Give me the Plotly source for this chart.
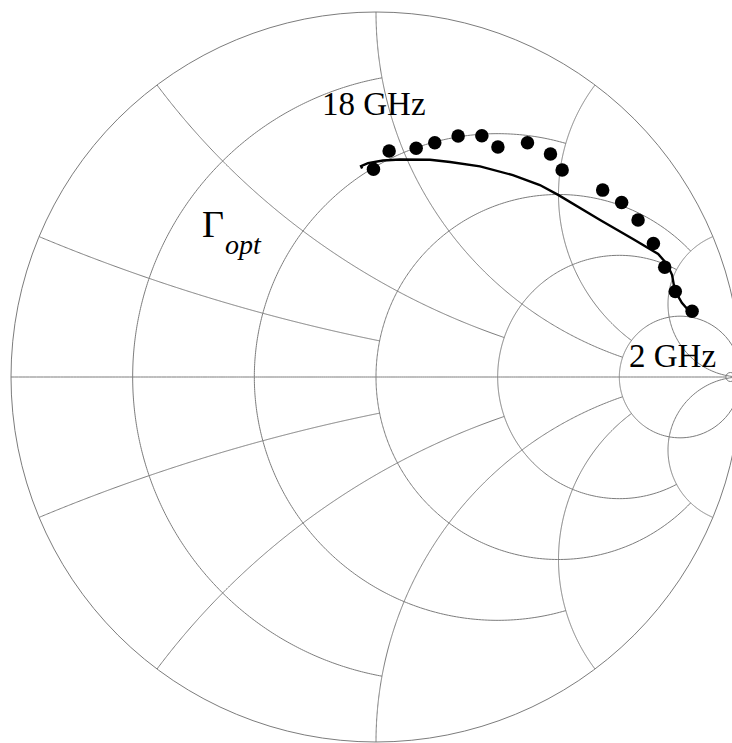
import numpy as np
import plotly.graph_objects as go

meas_gamma_re = [0.866, 0.820, 0.791, 0.760, 0.718, 0.673, 0.621, 0.510, 0.478,
                 0.415, 0.334, 0.290, 0.225, 0.161, 0.110, 0.036, -0.007]
meas_gamma_im = [0.180, 0.234, 0.301, 0.366, 0.430, 0.478, 0.512, 0.567, 0.611,
                 0.642, 0.630, 0.661, 0.660, 0.642, 0.627, 0.619, 0.569]

# Simulated Gamma_opt curve, 2 GHz -> 18 GHz
sim_gamma_re = [0.860, 0.838, 0.819, 0.811, 0.797, 0.773, 0.704, 0.614, 0.499,
                0.449, 0.375, 0.285, 0.203, 0.148, 0.066, 0.019, -0.022, -0.041, -0.038]
sim_gamma_im = [0.178, 0.203, 0.236, 0.280, 0.310, 0.337, 0.378, 0.430, 0.499,
                0.526, 0.553, 0.577, 0.589, 0.595, 0.596, 0.593, 0.586, 0.578, 0.571]

# Smith chart grid: resistance / reactance values and where each grid line stops
resist_vals = [0.2, 0.5, 1.0, 2.0, 5.0]
resist_stop_at_x = [1.0, 2.0, 5.0, 5.0, np.inf]
react_vals = [0.2, 0.5, 1.0, 2.0, 5.0]
react_stop_at_r = [1.0, 2.0, 5.0, 5.0, np.inf]

# Real-axis end point and the small open circle at its right end (as Gamma)
axis_end_gamma = [0.959]
open_mark_gamma = [0.971]

GRID = "#7c7c7c"


def gamma_to_z(re, im):
    g = np.array(re, dtype=float) + 1j * np.array(im, dtype=float)
    z = (1 + g) / (1 - g)
    return z.real, z.imag


def span(limit, n=400, start=None):
    a = np.arctan(limit) if np.isfinite(limit) else np.pi / 2 - 2e-4
    lo = -a if start is None else start
    return np.tan(np.linspace(lo, a, n))


fig = go.Figure()

# resistance circles
for r, xl in zip(resist_vals, resist_stop_at_x):
    xs = span(xl)
    fig.add_trace(go.Scattersmith(real=np.full_like(xs, r), imag=xs, mode="lines",
                                  line=dict(color=GRID, width=1), hoverinfo="skip"))
# reactance arcs (upper and lower)
for x, rl in zip(react_vals, react_stop_at_r):
    rs = span(rl, start=0.0)
    for sgn in (1, -1):
        fig.add_trace(go.Scattersmith(real=rs, imag=np.full_like(rs, sgn * x), mode="lines",
                                      line=dict(color=GRID, width=1), hoverinfo="skip"))
# real axis
ax_r, _ = gamma_to_z(axis_end_gamma, [0.0])
ax_line = np.concatenate([[0.0], np.tan(np.linspace(0.0, np.arctan(ax_r[-1]), 300))])
fig.add_trace(go.Scattersmith(real=ax_line, imag=np.zeros_like(ax_line), mode="lines",
                              line=dict(color=GRID, width=1), hoverinfo="skip"))
om_r, om_i = gamma_to_z(open_mark_gamma, [0.0])
fig.add_trace(go.Scattersmith(real=om_r, imag=om_i, mode="markers",
                              marker=dict(symbol="circle-open", size=9,
                                          color=GRID, line=dict(width=1, color=GRID)),
                              hoverinfo="skip"))

# data
sz_r, sz_i = gamma_to_z(sim_gamma_re, sim_gamma_im)
mz_r, mz_i = gamma_to_z(meas_gamma_re, meas_gamma_im)
fig.add_trace(go.Scattersmith(real=sz_r, imag=sz_i, mode="lines",
                              line=dict(color="black", width=2.4)))
fig.add_trace(go.Scattersmith(real=mz_r, imag=mz_i, mode="markers",
                              marker=dict(color="black", size=13.5)))

L, R, T, B = 11, 11, 12, 1
W, H = 752, 743
PW, PH = W - L - R, H - T - B


def px(xp, yp):
    return (xp - L) / PW, (H - B - yp) / PH


fig.update_layout(
    width=W, height=H,
    margin=dict(l=L, r=R, t=T, b=B),
    paper_bgcolor="white",
    showlegend=False,
    smith=dict(
        bgcolor="white",
        domain=dict(x=[0, 1], y=[0, 1]),
        realaxis=dict(showgrid=False, showline=False, showticklabels=False, ticks=""),
        imaginaryaxis=dict(showgrid=False, showline=True, linecolor=GRID, linewidth=1,
                           showticklabels=False, ticks=""),
    ),
)

serif = "Liberation Serif, Times New Roman, serif"
labels = [
    ("18 GHz", 374, 104, 33),
    ("2 GHz", 672.5, 356, 33),
    ("\u0393", 212.5, 224, 38),
    ("<i>opt</i>", 243.5, 245, 28),
]
for text, x0, y0, size in labels:
    xp, yp = px(x0, y0)
    fig.add_annotation(text=text, x=xp, y=yp, xref="paper", yref="paper",
                       xanchor="center", yanchor="middle", showarrow=False,
                       font=dict(family=serif, size=size, color="black"))

fig.write_html(
    "out.html",
    config={"displayModeBar": False},
    post_script=("document.body.style.margin='0';"
                 "document.documentElement.style.overflow='hidden';"
                 "document.body.style.overflow='hidden';"),
)
